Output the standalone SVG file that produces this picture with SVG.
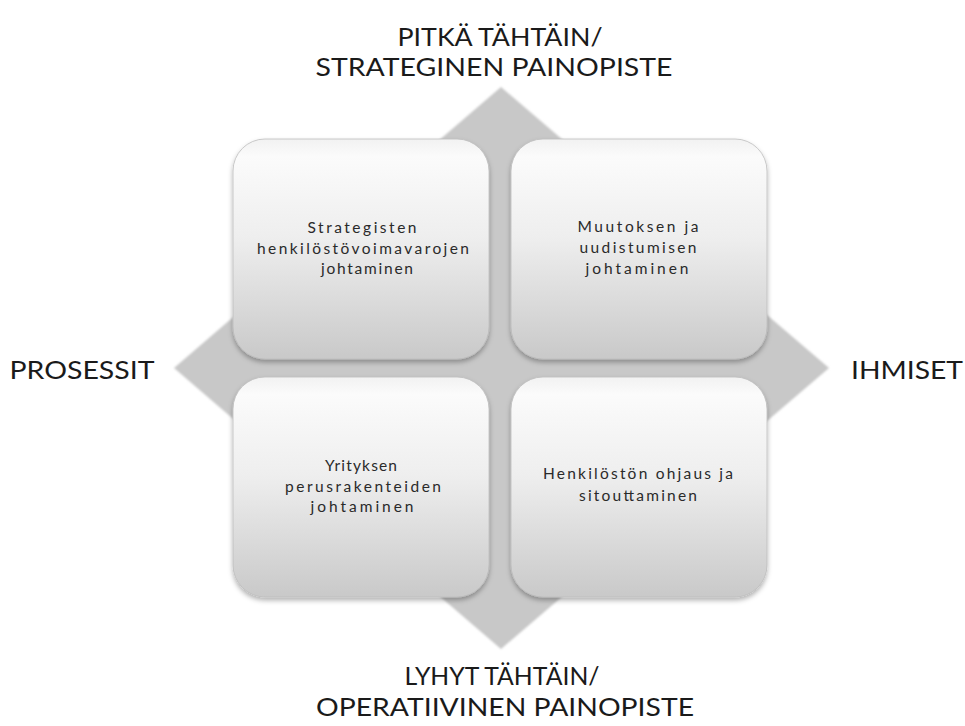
<svg xmlns="http://www.w3.org/2000/svg" width="965" height="726" viewBox="0 0 965 726">
<style>
.hd{font-family:Lato,"Open Sans","Liberation Sans",sans-serif;font-size:25px;fill:#1a1a1a;text-anchor:middle}
.lb{font-family:Lato,"Open Sans","Liberation Sans",sans-serif;font-size:15.5px;fill:#2a2a2a;text-anchor:middle}
.box{fill:url(#g);stroke:#bdbdbd;stroke-width:0.8;filter:url(#sh)}
</style>
<defs>
<linearGradient id="g" x1="0" y1="0" x2="0" y2="1">
<stop offset="0" stop-color="#f2f2f2"/>
<stop offset="0.08" stop-color="#fbfbfb"/>
<stop offset="0.45" stop-color="#eeeeee"/>
<stop offset="1" stop-color="#c9c9c9"/>
</linearGradient>
<filter id="sh" x="-10%" y="-10%" width="120%" height="125%">
<feDropShadow dx="0" dy="3" stdDeviation="2.5" flood-color="#000" flood-opacity="0.3"/>
</filter>
<filter id="soft" x="-5%" y="-5%" width="110%" height="110%">
<feGaussianBlur stdDeviation="1.2"/>
</filter>
</defs>
<rect width="965" height="726" fill="#ffffff"/>
<g id="diamond">
<polygon points="501,87 829,368 501,649 174,368" fill="#c8c8c8" filter="url(#soft)"/>
</g>
<g id="connectors"></g>
<g id="top-label">
<text class="hd" x="500" y="46" textLength="205" lengthAdjust="spacingAndGlyphs">PITKÄ TÄHTÄIN/</text>
<text class="hd" x="494" y="76" textLength="357" lengthAdjust="spacingAndGlyphs">STRATEGINEN PAINOPISTE</text>
</g>
<g id="bottom-label">
<text class="hd" x="502" y="685" textLength="195" lengthAdjust="spacingAndGlyphs">LYHYT TÄHTÄIN/</text>
<text class="hd" x="505" y="716" textLength="378" lengthAdjust="spacingAndGlyphs">OPERATIIVINEN PAINOPISTE</text>
</g>
<g id="left-label">
<text class="hd" x="82" y="379" textLength="145" lengthAdjust="spacingAndGlyphs">PROSESSIT</text>
</g>
<g id="right-label">
<text class="hd" x="907" y="379" textLength="112" lengthAdjust="spacingAndGlyphs">IHMISET</text>
</g>
<g id="node-tl">
<rect class="box" x="233" y="139" width="256" height="220" rx="32"/>
<text class="lb" x="362" y="233" textLength="109" lengthAdjust="spacing">Strategisten</text>
<text class="lb" x="363" y="254" textLength="212" lengthAdjust="spacing">henkilöstövoimavarojen</text>
<text class="lb" x="367" y="274" textLength="92" lengthAdjust="spacing">johtaminen</text>
</g>
<g id="node-tr">
<rect class="box" x="511" y="139" width="256" height="220" rx="32"/>
<text class="lb" x="638" y="232" textLength="121" lengthAdjust="spacing">Muutoksen ja</text>
<text class="lb" x="638" y="253" textLength="117" lengthAdjust="spacing">uudistumisen</text>
<text class="lb" x="637" y="274" textLength="103" lengthAdjust="spacing">johtaminen</text>
</g>
<g id="node-bl">
<rect class="box" x="233" y="377" width="256" height="220" rx="32"/>
<text class="lb" x="361" y="471" textLength="72" lengthAdjust="spacing">Yrityksen</text>
<text class="lb" x="363" y="492" textLength="156" lengthAdjust="spacing">perusrakenteiden</text>
<text class="lb" x="362" y="512" textLength="103" lengthAdjust="spacing">johtaminen</text>
</g>
<g id="node-br">
<rect class="box" x="511" y="377" width="256" height="220" rx="32"/>
<text class="lb" x="638" y="479" textLength="190" lengthAdjust="spacing">Henkilöstön ohjaus ja</text>
<text class="lb" x="638" y="501" textLength="118" lengthAdjust="spacing">sitouttaminen</text>
</g>
</svg>
